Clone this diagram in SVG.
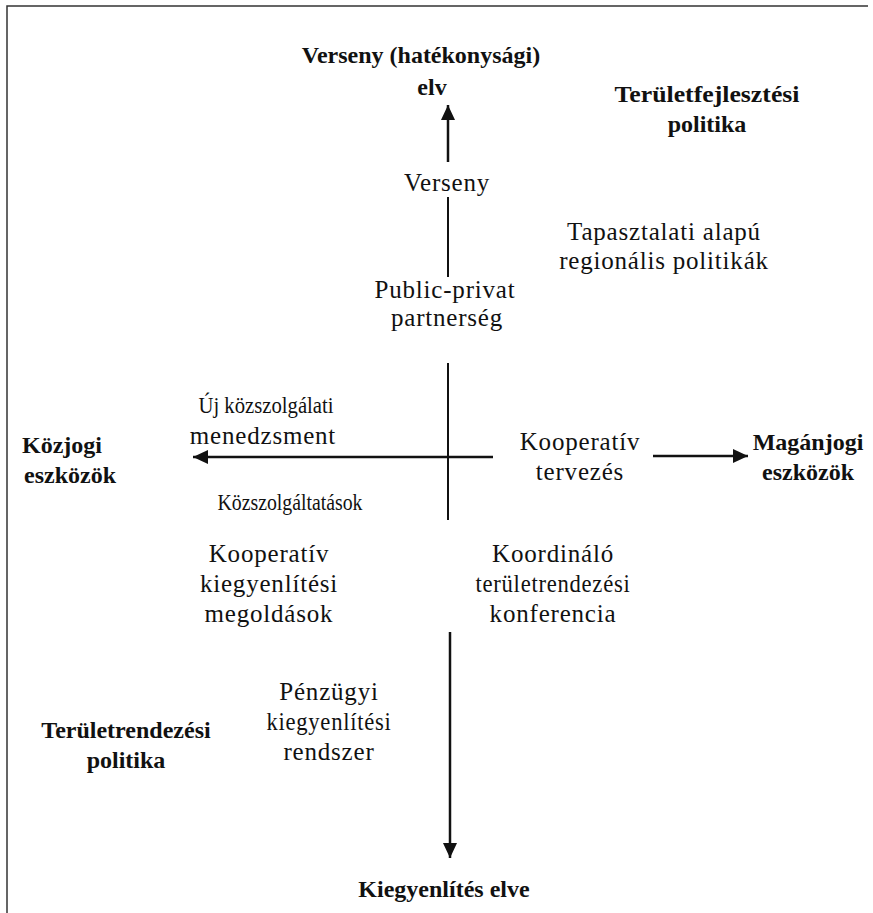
<svg xmlns="http://www.w3.org/2000/svg" width="873" height="913" viewBox="0 0 873 913">
<style>
text{font-family:"Liberation Serif","Times New Roman",serif;fill:#111;text-anchor:middle}
.r{font-size:25px;letter-spacing:0.8px}
.b{font-size:24px;font-weight:bold}
.c{font-size:24px}
.ln{stroke:#111;stroke-width:2.5;fill:none}
.bd{stroke:#333;stroke-width:1.5;fill:none}
</style>
<defs>
<marker id="ah2" viewBox="0 0 15 14" refX="15" refY="7" markerWidth="15" markerHeight="14" markerUnits="userSpaceOnUse" orient="auto"><path d="M0,0 L15,7 L0,14 z" fill="#111"/></marker>
</defs>
<g id="border">
<path class="bd" d="M7,913 L7,6 L868,6"/>
</g>
<g id="connectors">
<line class="ln" x1="448" y1="162" x2="448" y2="105" marker-end="url(#ah2)"/>
<line class="ln" x1="448" y1="197" x2="448" y2="277" style="stroke-width:2"/>
<line class="ln" x1="448" y1="363" x2="448" y2="520" style="stroke-width:2"/>
<line class="ln" x1="493" y1="457" x2="193" y2="457" marker-end="url(#ah2)"/>
<line class="ln" x1="653" y1="456" x2="748" y2="456" marker-end="url(#ah2)"/>
<line class="ln" x1="450" y1="632" x2="450" y2="858" marker-end="url(#ah2)"/>
</g>
<g id="n-verseny-elv"><text class="b" x="421" y="63">Verseny (hatékonysági)</text><text class="b" x="432" y="95">elv</text></g>
<g id="n-teruletfejlesztesi"><text class="b" x="707" y="102" textLength="185" lengthAdjust="spacingAndGlyphs">Területfejlesztési</text><text class="b" x="707" y="132">politika</text></g>
<g id="n-verseny"><text class="r" x="447" y="191">Verseny</text></g>
<g id="n-tapasztalati"><text class="r" x="664" y="240">Tapasztalati alapú</text><text class="r" x="664" y="269">regionális politikák</text></g>
<g id="n-ppp"><text class="r" x="445" y="298">Public-privat</text><text class="r" x="447" y="326">partnerség</text></g>
<g id="n-uj"><text class="c" x="266" y="413" textLength="135" lengthAdjust="spacingAndGlyphs">Új közszolgálati</text><text class="r" x="263" y="444">menedzsment</text></g>
<g id="n-kozjogi"><text class="b" x="62" y="453">Közjogi</text><text class="b" x="70" y="483">eszközök</text></g>
<g id="n-koop-tervezes"><text class="r" x="580" y="450">Kooperatív</text><text class="r" x="580" y="480">tervezés</text></g>
<g id="n-maganjogi"><text class="b" x="808" y="450">Magánjogi</text><text class="b" x="808" y="480">eszközök</text></g>
<g id="n-kozszolg"><text class="c" x="290" y="510" textLength="145" lengthAdjust="spacingAndGlyphs">Közszolgáltatások</text></g>
<g id="n-koop-kieg"><text class="r" x="269" y="562">Kooperatív</text><text class="r" x="269" y="592">kiegyenlítési</text><text class="r" x="269" y="622">megoldások</text></g>
<g id="n-koordinalo"><text class="r" x="553" y="562">Koordináló</text><text class="r" x="553" y="592" textLength="155" lengthAdjust="spacingAndGlyphs">területrendezési</text><text class="r" x="553" y="622">konferencia</text></g>
<g id="n-penzugyi"><text class="r" x="329" y="700">Pénzügyi</text><text class="r" x="329" y="730" textLength="125" lengthAdjust="spacingAndGlyphs">kiegyenlítési</text><text class="r" x="329" y="760">rendszer</text></g>
<g id="n-teruletrendezesi"><text class="b" x="126" y="738">Területrendezési</text><text class="b" x="126" y="768">politika</text></g>
<g id="n-kiegyenlites"><text class="b" x="444" y="897">Kiegyenlítés elve</text></g>
</svg>
